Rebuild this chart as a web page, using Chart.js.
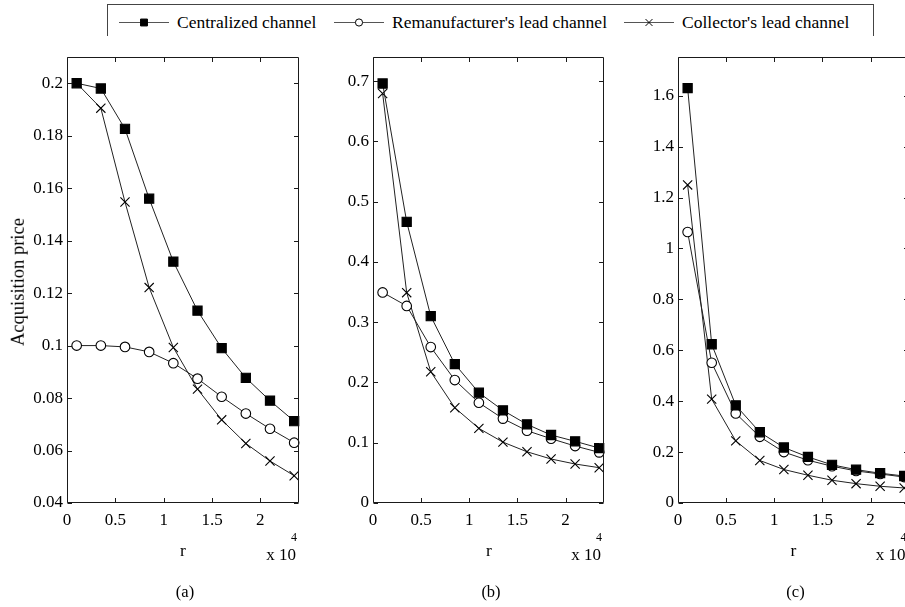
<!DOCTYPE html>
<html>
<head>
<meta charset="utf-8">
<script src="https://cdn.jsdelivr.net/npm/chart.js@4/dist/chart.umd.min.js"></script>
<style>
  html, body { margin: 0; padding: 0; background: #fff; width: 905px; height: 607px; overflow: hidden; }
  body { position: relative; font-family: "Liberation Serif", "Times New Roman", serif; color: #000; }
  canvas { position: absolute; top: 0; }
  .txt { position: absolute; white-space: nowrap; transform: translate(-50%, -50%); line-height: 1; }
  #legend { position: absolute; left: 107px; top: 4px; width: 767px; height: 32px;
            border: 1px solid #444; border-bottom: none; box-sizing: border-box; }
  .leg { position: absolute; top: 0; height: 32px; }
  .leg span { position: absolute; top: 17px; transform: translateY(-50%); font-size: 17.5px; white-space: nowrap; }
</style>
</head>
<body>
<div id="legend"></div>
<script>
// ---- data (r in units of 10^4) ----
const rValues = [0.1, 0.35, 0.6, 0.85, 1.1, 1.35, 1.6, 1.85, 2.1, 2.35];
const seriesNames = ["Centralized channel", "Remanufacturer's lead channel", "Collector's lead channel"];
const panelLabels = ["(a)", "(b)", "(c)"];
const xTicks = [0, 0.5, 1, 1.5, 2];

const centralA = [0.2, 0.198, 0.1826, 0.156, 0.132, 0.1133, 0.099, 0.0877, 0.079, 0.0712];
const remanA   = [0.1, 0.1, 0.0995, 0.0976, 0.0933, 0.0874, 0.0805, 0.0741, 0.0683, 0.063];
const collectA = [0.2, 0.1905, 0.1547, 0.1221, 0.0993, 0.0834, 0.0717, 0.0627, 0.056, 0.0504];
const yTicksA  = [0.04, 0.06, 0.08, 0.1, 0.12, 0.14, 0.16, 0.18, 0.2];

const centralB = [0.696, 0.4665, 0.31, 0.2305, 0.183, 0.1537, 0.1305, 0.1128, 0.1023, 0.0912];
const remanB   = [0.3494, 0.327, 0.2587, 0.204, 0.1664, 0.14, 0.12, 0.1067, 0.0945, 0.084];
const collectB = [0.6794, 0.349, 0.2178, 0.158, 0.1238, 0.101, 0.085, 0.073, 0.0647, 0.0586];
const yTicksB  = [0, 0.1, 0.2, 0.3, 0.4, 0.5, 0.6, 0.7];

const centralC = [1.63, 0.6236, 0.3835, 0.278, 0.218, 0.181, 0.15, 0.131, 0.117, 0.106];
const remanC   = [1.0646, 0.551, 0.352, 0.26, 0.2, 0.168, 0.1445, 0.126, 0.114, 0.102];
const collectC = [1.2496, 0.408, 0.244, 0.167, 0.1315, 0.109, 0.0894, 0.076, 0.0657, 0.059];
const yTicksC  = [0, 0.2, 0.4, 0.6, 0.8, 1, 1.2, 1.4, 1.6];

// ---- styling / layout ----
const FONT = "'Liberation Serif', 'Times New Roman', serif";
Chart.defaults.font.family = FONT;
Chart.defaults.color = '#000';
const markerStyles = [
  { pointStyle: 'rect', pointRadius: 6.5, backgroundColor: '#000' },
  { pointStyle: 'circle', pointRadius: 4.8, backgroundColor: '#fff' },
  { pointStyle: 'crossRot', pointRadius: 6.5, backgroundColor: '#000' }
];
const panels = [
  { id: 'a', plotLeft: 67,    plotW: 232, yMin: 0.04, yMax: 0.21, yTicks: yTicksA, series: [centralA, remanA, collectA] },
  { id: 'b', plotLeft: 373,   plotW: 231, yMin: 0,    yMax: 0.74, yTicks: yTicksB, series: [centralB, remanB, collectB] },
  { id: 'c', plotLeft: 677.5, plotW: 231, yMin: 0,    yMax: 1.752, yTicks: yTicksC, series: [centralC, remanC, collectC] }
];
const PLOT_TOP = 57, PLOT_BOTTOM = 503, YW = 67, XH = 37, PADR = 11, CANVAS_H = PLOT_BOTTOM + XH;

const fmt = v => String(+(+v).toFixed(4));

const boxTicks = {
  id: 'boxTicks',
  afterDraw(chart) {
    const { ctx, chartArea: a, scales: { x, y } } = chart;
    const L = Math.round(a.left) + 0.5, R = Math.round(a.right) - 0.5;
    const T = Math.round(a.top) + 0.5, B = Math.round(a.bottom) - 0.5;
    const len = 4.5;
    ctx.save();
    ctx.strokeStyle = '#1a1a1a';
    ctx.lineWidth = 1;
    ctx.beginPath();
    ctx.rect(L, T, R - L, B - T);
    x.ticks.forEach(t => {
      const px = Math.round(x.getPixelForValue(t.value)) + 0.5;
      ctx.moveTo(px, B); ctx.lineTo(px, B - len);
      ctx.moveTo(px, T); ctx.lineTo(px, T + len);
    });
    y.ticks.forEach(t => {
      const py = Math.round(y.getPixelForValue(t.value)) + 0.5;
      ctx.moveTo(L, py); ctx.lineTo(L + len, py);
      ctx.moveTo(R, py); ctx.lineTo(R - len, py);
    });
    ctx.stroke();
    ctx.restore();
  }
};

function addText(str, x, y, size, extra) {
  const d = document.createElement('div');
  d.className = 'txt';
  d.textContent = str;
  d.style.left = x + 'px';
  d.style.top = y + 'px';
  d.style.fontSize = size + 'px';
  if (extra) Object.assign(d.style, extra);
  document.body.appendChild(d);
  return d;
}

panels.forEach((p, pi) => {
  const cv = document.createElement('canvas');
  const w = YW + p.plotW + PADR;
  cv.width = w; cv.height = CANVAS_H;
  cv.style.width = w + 'px'; cv.style.height = CANVAS_H + 'px';
  cv.style.left = (p.plotLeft - YW) + 'px';
  document.body.appendChild(cv);

  const datasets = p.series.map((vals, si) => ({
    label: seriesNames[si],
    data: rValues.map((r, i) => ({ x: r, y: vals[i] })),
    borderColor: '#222',
    borderWidth: 1,
    pointBorderColor: '#000',
    pointBorderWidth: 1.1,
    pointBackgroundColor: markerStyles[si].backgroundColor,
    pointStyle: markerStyles[si].pointStyle,
    pointRadius: markerStyles[si].pointRadius,
    tension: 0,
    clip: false
  }));

  new Chart(cv, {
    type: 'line',
    data: { datasets },
    options: {
      responsive: false,
      devicePixelRatio: 1,
      animation: false,
      events: [],
      layout: { padding: { top: PLOT_TOP, right: PADR, left: 0, bottom: 0 } },
      plugins: { legend: { display: false }, tooltip: { enabled: false } },
      scales: {
        x: {
          type: 'linear', min: 0, max: 2.4,
          grid: { display: false, drawTicks: false, tickLength: 0 },
          border: { display: false },
          afterBuildTicks: s => { s.ticks = xTicks.map(v => ({ value: v })); },
          afterFit: s => { s.height = XH; },
          ticks: { color: '#000', padding: 7, font: { family: FONT, size: 17 }, callback: v => fmt(v), maxRotation: 0, autoSkip: false }
        },
        y: {
          type: 'linear', min: p.yMin, max: p.yMax,
          grid: { display: false, drawTicks: false, tickLength: 0 },
          border: { display: false },
          afterBuildTicks: s => { s.ticks = p.yTicks.map(v => ({ value: v })); },
          afterFit: s => { s.width = YW; },
          ticks: { color: '#000', padding: 4, font: { family: FONT, size: 17 }, callback: v => fmt(v), autoSkip: false }
        }
      }
    },
    plugins: [boxTicks]
  });

  const right = p.plotLeft + p.plotW;
  addText('r', p.plotLeft + 116, 551, 17.5);
  addText('x 10', right - 18, 554, 17);
  addText('4', right - 5, 537, 12);
  addText(panelLabels[pi], p.plotLeft + 118, 592, 16.5);
});

addText('Acquisition price', 17.5, 282, 18.5, { transform: 'translate(-50%, -50%) rotate(-90deg)' });

// ---- legend ----
const legend = document.getElementById('legend');
const legendItems = [
  { lineX: 11,  textX: 69 },
  { lineX: 226, textX: 284 },
  { lineX: 516, textX: 574 }
];
seriesNames.forEach((name, i) => {
  const item = document.createElement('div');
  item.className = 'leg';
  item.style.left = legendItems[i].lineX + 'px';
  const c = document.createElement('canvas');
  c.width = 52; c.height = 32;
  c.style.position = 'absolute'; c.style.left = '0px'; c.style.top = '0px';
  item.appendChild(c);
  const ctx = c.getContext('2d');
  ctx.strokeStyle = '#555'; ctx.lineWidth = 1.2;
  ctx.beginPath(); ctx.moveTo(0, 17.5); ctx.lineTo(50, 17.5); ctx.stroke();
  ctx.fillStyle = markerStyles[i].backgroundColor;
  ctx.strokeStyle = '#000'; ctx.lineWidth = 1;
  Chart.helpers.drawPoint(ctx, { pointStyle: markerStyles[i].pointStyle, radius: markerStyles[i].pointRadius * 0.75, borderWidth: 1 }, 25, 17.5);
  const s = document.createElement('span');
  s.textContent = name;
  s.style.left = (legendItems[i].textX - legendItems[i].lineX) + 'px';
  item.appendChild(s);
  legend.appendChild(item);
});
</script>
</body>
</html>
